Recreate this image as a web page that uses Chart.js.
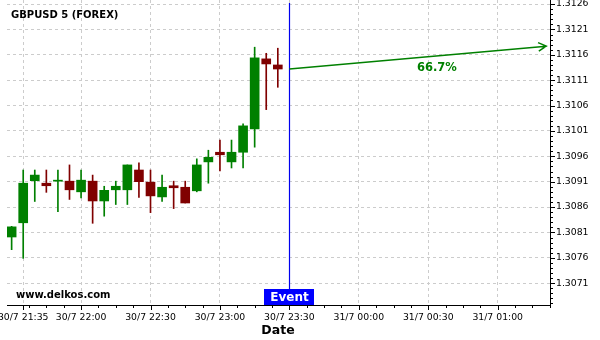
<!DOCTYPE html>
<html>
<head>
<meta charset="utf-8">
<script src="https://cdn.jsdelivr.net/npm/chart.js@4.4.1/dist/chart.umd.min.js"></script>
<style>
  html, body { margin: 0; padding: 0; background: #fff; }
  #wrap { width: 600px; height: 340px; position: relative; }
</style>
</head>
<body>
<div id="wrap"><canvas id="chart"></canvas></div>
<script>
// 5 minute candles, 30/7
const times  = ['21:30','21:35','21:40','21:45','21:50','21:55','22:00','22:05','22:10','22:15','22:20','22:25',
                '22:30','22:35','22:40','22:45','22:50','22:55','23:00','23:05','23:10','23:15','23:20','23:25'];
const opens  = [1.30801,1.30829,1.30912,1.30907,1.30911,1.30911,1.30890,1.30911,1.30872,1.30894,1.30894,1.30933,
                1.30909,1.30880,1.30902,1.30899,1.30892,1.30949,1.30968,1.30949,1.30968,1.31014,1.31152,1.31140];
const highs  = [1.30822,1.30933,1.30933,1.30933,1.30933,1.30943,1.30933,1.30923,1.30901,1.30911,1.30943,1.30947,
                1.30933,1.30923,1.30911,1.30911,1.30955,1.30972,1.30992,1.30992,1.31024,1.31175,1.31163,1.31173];
const lows   = [1.30776,1.30759,1.30871,1.30889,1.30851,1.30875,1.30878,1.30828,1.30842,1.30865,1.30865,1.30879,
                1.30849,1.30871,1.30857,1.30868,1.30890,1.30907,1.30931,1.30937,1.30937,1.30978,1.31052,1.31096];
const closes = [1.30821,1.30907,1.30923,1.30902,1.30913,1.30894,1.30913,1.30872,1.30893,1.30901,1.30943,1.30910,
                1.30882,1.30899,1.30898,1.30868,1.30943,1.30958,1.30963,1.30968,1.31020,1.31154,1.31142,1.31132];

const xTickLabels = ['30/7 21:35','30/7 22:00','30/7 22:30','30/7 23:00','30/7 23:30','31/7 00:00','31/7 00:30','31/7 01:00'];
const yTicks = [1.3071,1.3076,1.3081,1.3086,1.3091,1.3096,1.3101,1.3106,1.3111,1.3116,1.3121,1.3126];

const eventTime = '30/7 23:30';
const forecastEnd = ['31/7 01:21', 1.31177];
const forecastLabel = '66.7%';

const GREEN = '#008000';
const RED = '#800000';

// "d/m hh:mm" or "hh:mm" (30/7) -> minutes from 30/7 00:00
function toMin(s) {
  let day = 30, hm = s;
  if (s.indexOf(' ') > 0) { day = parseInt(s.split(' ')[0].split('/')[0]); hm = s.split(' ')[1]; }
  const [h, m] = hm.split(':').map(Number);
  return (day - 30) * 1440 + h * 60 + m;
}

const up = opens.map((o, i) => closes[i] >= o);
const colors = up.map(u => u ? GREEN : RED);

const candlePlugin = {
  id: 'extras',
  afterDatasetsDraw(chart) {
    const ctx = chart.ctx;
    const xs = chart.scales.x, ys = chart.scales.y;
    const area = chart.chartArea;
    ctx.save();

    // minor / major tick marks on the axes
    ctx.strokeStyle = '#000';
    ctx.lineWidth = 1;
    ctx.beginPath();
    for (let v = 1.3067; v <= 1.31265; v += 0.0001) {
      const y = Math.round(ys.getPixelForValue(v)) + 0.5;
      const major = yTicks.some(t => Math.abs(t - v) < 0.00002);
      ctx.moveTo(area.right, y);
      ctx.lineTo(area.right + (major ? 5 : 3), y);
    }
    xTickLabels.forEach(l => {
      const x = Math.round(xs.getPixelForValue(toMin(l))) + 0.5;
      ctx.moveTo(x, area.bottom);
      ctx.lineTo(x, area.bottom + 5);
    });
    for (let m = toMin('22:00') - 30; m <= xs.max; m += 7.5) {
      if (m % 30 === 0) continue;
      const x = Math.round(xs.getPixelForValue(m)) + 0.5;
      ctx.moveTo(x, area.bottom);
      ctx.lineTo(x, area.bottom + 3);
    }
    ctx.stroke();

    // event line
    const ex = Math.round(xs.getPixelForValue(toMin(eventTime))) + 0.5;
    ctx.strokeStyle = '#0000ee';
    ctx.lineWidth = 1.2;
    ctx.beginPath();
    ctx.moveTo(ex, area.top + 3);
    ctx.lineTo(ex, area.bottom);
    ctx.stroke();

    // forecast arrow
    const x0 = xs.getPixelForValue(toMin(eventTime));
    const y0 = ys.getPixelForValue(closes[closes.length - 1]);
    const x1 = xs.getPixelForValue(toMin(forecastEnd[0]));
    const y1 = ys.getPixelForValue(forecastEnd[1]);
    ctx.strokeStyle = GREEN;
    ctx.lineWidth = 1.5;
    ctx.beginPath();
    ctx.moveTo(x0, y0);
    ctx.lineTo(x1, y1);
    const ang = Math.atan2(y1 - y0, x1 - x0);
    ctx.moveTo(x1 - 9 * Math.cos(ang - 0.5), y1 - 9 * Math.sin(ang - 0.5));
    ctx.lineTo(x1, y1);
    ctx.lineTo(x1 - 9 * Math.cos(ang + 0.5), y1 - 9 * Math.sin(ang + 0.5));
    ctx.stroke();

    ctx.fillStyle = GREEN;
    ctx.font = 'bold 11.5px "DejaVu Sans"';
    ctx.textAlign = 'center';
    ctx.textBaseline = 'middle';
    ctx.fillText(forecastLabel, x0 + (x1 - x0) * 0.574, y0 + (y1 - y0) * 0.574 + 12);

    // event tag
    ctx.fillStyle = '#0000ff';
    ctx.fillRect(ex - 25.5, area.bottom - 16, 50, 16);
    ctx.fillStyle = '#fff';
    ctx.font = 'bold 12px "DejaVu Sans"';
    ctx.fillText('Event', ex, area.bottom - 7.5);

    // texts
    ctx.fillStyle = '#000';
    ctx.textAlign = 'left';
    ctx.font = 'bold 10px "DejaVu Sans"';
    ctx.fillText('GBPUSD 5 (FOREX)', 11, 15);
    ctx.fillText('www.delkos.com', 16, 295);
    ctx.textAlign = 'center';
    ctx.font = 'bold 12.5px "DejaVu Sans"';
    ctx.fillText('Date', 278, 331);

    ctx.restore();
  }
};

new Chart(document.getElementById('chart'), {
  type: 'bar',
  data: {
    datasets: [
      {
        label: 'wick',
        data: times.map((t, i) => ({ x: toMin(t), y: [lows[i], highs[i]] })),
        backgroundColor: colors,
        barThickness: 1,
        grouped: false,
        order: 2
      },
      {
        label: 'body',
        data: times.map((t, i) => ({ x: toMin(t), y: [opens[i], closes[i]] })),
        backgroundColor: colors,
        barThickness: 9,
        minBarLength: 1,
        grouped: false,
        order: 1
      }
    ]
  },
  options: {
    responsive: true,
    maintainAspectRatio: false,
    animation: false,
    layout: { autoPadding: false, padding: { left: 7, top: 0, right: 0, bottom: 0 } },
    plugins: { legend: { display: false }, tooltip: { enabled: false } },
    scales: {
      x: {
        type: 'linear',
        offset: false,
        min: 1288,
        max: 1522.6,
        afterFit(s) { s.height = 35; s.paddingLeft = 0; s.paddingRight = 0; },
        afterBuildTicks(s) { s.ticks = xTickLabels.map(l => ({ value: toMin(l) })); },
        ticks: {
          autoSkip: false,
          maxRotation: 0,
          padding: 7,
          color: '#000',
          font: { family: 'DejaVu Sans', size: 9.3 },
          callback: (v, i) => xTickLabels[i]
        },
        grid: { color: '#cccccc', drawTicks: false, offset: false },
        border: { display: true, color: '#000', width: 1, dash: [3, 3] }
      },
      y: {
        position: 'right',
        min: 1.30667,
        max: 1.31268,
        afterFit(s) { s.width = 50; s.paddingTop = 0; s.paddingBottom = 0; },
        afterBuildTicks(s) { s.ticks = yTicks.map(v => ({ value: v })); },
        ticks: {
          padding: 6,
          color: '#000',
          font: { family: 'DejaVu Sans', size: 9.3 },
          callback: v => v.toFixed(4)
        },
        grid: { color: '#cccccc', drawTicks: false },
        border: { display: true, color: '#000', width: 1, dash: [3, 3] }
      }
    }
  },
  plugins: [candlePlugin]
});
</script>
</body>
</html>
